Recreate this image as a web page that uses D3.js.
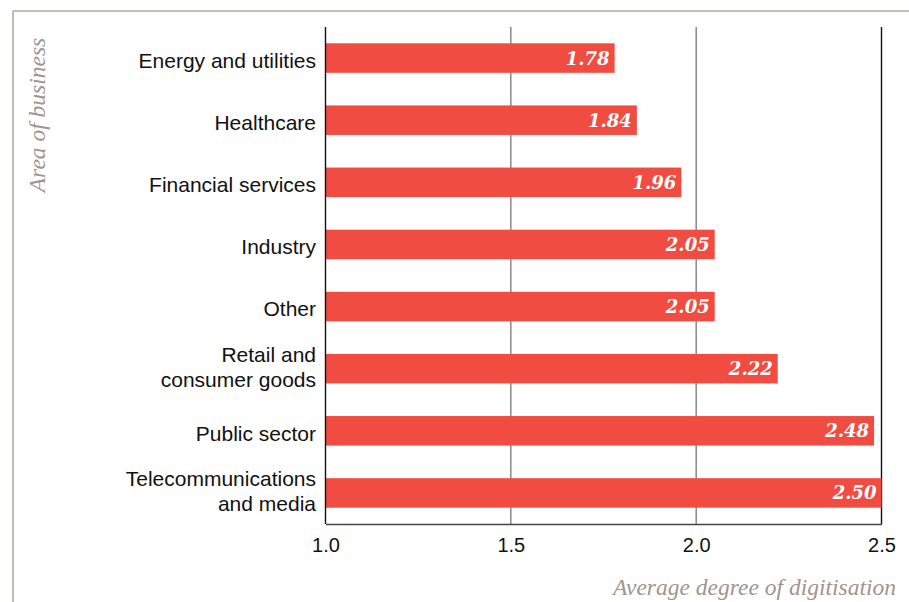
<!DOCTYPE html>
<html>
<head>
<meta charset="utf-8">
<script src="https://cdn.jsdelivr.net/npm/d3@7/dist/d3.min.js"></script>
<style>
  html, body { margin: 0; padding: 0; background: #fff; }
  svg { display: block; }
</style>
</head>
<body>
<svg id="chart" width="909" height="602"></svg>
<script>
// Average degree of digitisation by area of business
const categories = [
  ["Energy and utilities"],
  ["Healthcare"],
  ["Financial services"],
  ["Industry"],
  ["Other"],
  ["Retail and", "consumer goods"],
  ["Public sector"],
  ["Telecommunications", "and media"]
];
const values = [1.78, 1.84, 1.96, 2.05, 2.05, 2.22, 2.48, 2.50];
const tickValues = [1.0, 1.5, 2.0, 2.5];
const xTitle = "Average degree of digitisation";
const yTitle = "Area of business";

const svg = d3.select("#chart");
const W = 909, H = 602;
const plot = { left: 325.5, right: 881.5, top: 27, bottom: 524 };

const barColor = "#f04c41";
const frameColor = "#b1aaa5";
const titleColor = "#a0958d";
const sans = "'Liberation Sans', Arial, Helvetica, sans-serif";
const serif = "'DejaVu Serif', Georgia, serif";
const titleSerif = "'Liberation Serif', Georgia, serif";

const keys = categories.map((c, i) => i);
const data = keys.map(i => ({ lines: categories[i], value: values[i], key: i }));

const x = d3.scaleLinear().domain([1.0, 2.5]).range([plot.left, plot.right]);
const y = d3.scaleBand().domain(keys).range([plot.top, plot.bottom])
  .paddingInner(0.525).paddingOuter(0.2625);

// Frame: top and left border lines
svg.append("line").attr("x1", 13).attr("x2", W).attr("y1", 11).attr("y2", 11)
  .attr("stroke", frameColor).attr("stroke-width", 1.6);
svg.append("line").attr("x1", 13).attr("x2", 13).attr("y1", 11).attr("y2", H)
  .attr("stroke", frameColor).attr("stroke-width", 1.6);

// Vertical gridlines
svg.append("g").selectAll("line")
  .data(tickValues.filter(t => t > 1.0))
  .join("line")
  .attr("x1", d => x(d)).attr("x2", d => x(d))
  .attr("y1", plot.top).attr("y2", plot.bottom)
  .attr("stroke", d => d === 2.5 ? "#111" : "#777")
  .attr("stroke-width", d => d === 2.5 ? 1.4 : 1.3);

// Bars
svg.append("g").selectAll("rect")
  .data(data)
  .join("rect")
  .attr("x", x(1.0))
  .attr("y", d => y(d.key))
  .attr("width", d => x(d.value) - x(1.0))
  .attr("height", y.bandwidth())
  .attr("fill", barColor);

// Value labels inside bar ends
svg.append("g").selectAll("text")
  .data(data)
  .join("text")
  .attr("x", d => x(d.value) - 5)
  .attr("y", d => y(d.key) + y.bandwidth() / 2)
  .attr("dy", "0.36em")
  .attr("text-anchor", "end")
  .attr("fill", "#fff")
  .attr("font-family", serif)
  .attr("font-style", "italic")
  .attr("font-weight", "bold")
  .attr("font-size", 18)
  .text(d => d.value.toFixed(2));

// Y axis line at 1.0
svg.append("line").attr("x1", x(1.0)).attr("x2", x(1.0))
  .attr("y1", plot.top).attr("y2", plot.bottom)
  .attr("stroke", "#111").attr("stroke-width", 1.4);

// X axis
const xAxis = d3.axisBottom(x).tickValues(tickValues).tickFormat(d3.format(".1f")).tickSize(0).tickPadding(14);
const gx = svg.append("g").attr("transform", `translate(0,${plot.bottom})`).call(xAxis);
gx.select(".domain").attr("stroke", "#444").attr("stroke-width", 1.4);
gx.selectAll("text").attr("font-family", sans).attr("font-size", 20).attr("fill", "#111");

// Category labels (one or two lines, right-aligned left of the axis)
const catG = svg.append("g");
data.forEach(d => {
  const n = d.lines.length;
  const cy = y(d.key) + y.bandwidth() / 2 + (n > 1 ? -2 : 2.5);
  const lh = 25;
  const t = catG.append("text")
    .attr("text-anchor", "end")
    .attr("font-family", sans)
    .attr("font-size", 21)
    .attr("fill", "#111");
  d.lines.forEach((line, j) => {
    t.append("tspan")
      .attr("x", 316)
      .attr("y", cy + (j - (n - 1) / 2) * lh)
      .attr("dy", "0.35em")
      .text(line);
  });
});

// Axis titles
svg.append("text")
  .attr("transform", `translate(45,115) rotate(-90)`)
  .attr("text-anchor", "middle")
  .attr("font-family", titleSerif)
  .attr("font-style", "italic")
  .attr("font-size", 23.5)
  .attr("fill", titleColor)
  .text(yTitle);

svg.append("text")
  .attr("x", 896)
  .attr("y", 595)
  .attr("text-anchor", "end")
  .attr("font-family", titleSerif)
  .attr("font-style", "italic")
  .attr("font-size", 23.5)
  .attr("fill", titleColor)
  .text(xTitle);
</script>
</body>
</html>
